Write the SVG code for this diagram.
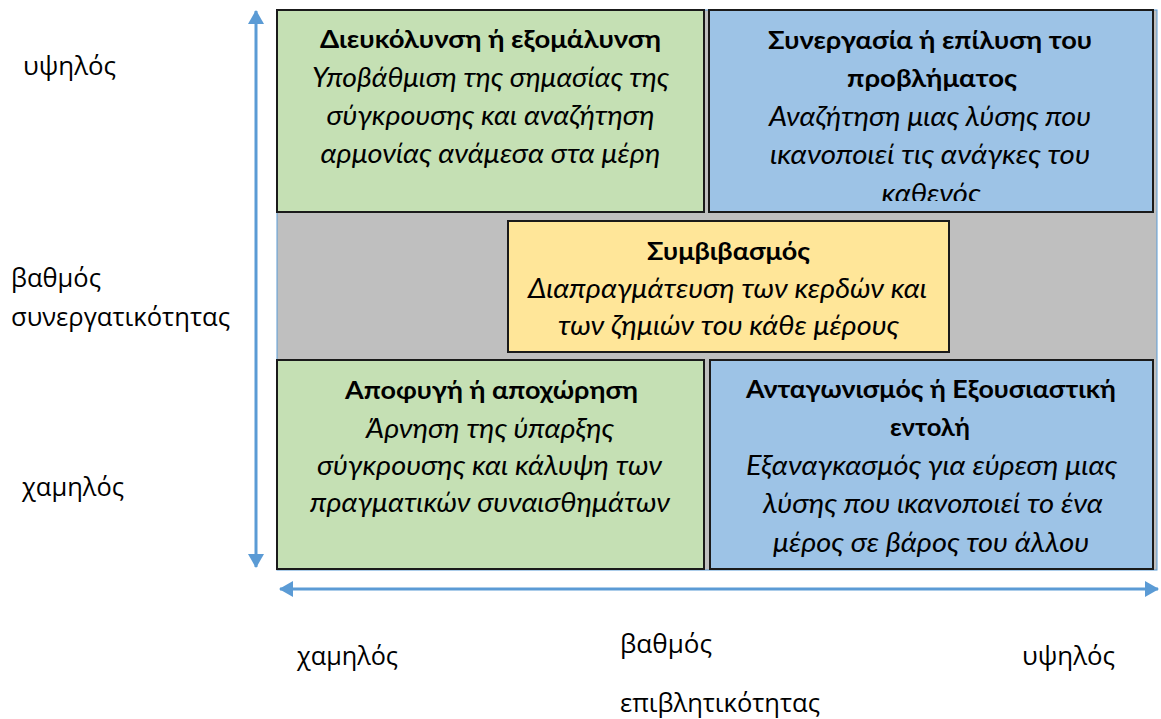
<svg xmlns="http://www.w3.org/2000/svg" width="1161" height="719" viewBox="0 0 1161 719">
<style>
.box{stroke:#1a1a1a;stroke-width:2}
.green{fill:#C5E0B4}
.blue{fill:#9DC3E6}
.yellow{fill:#FFE699}
.t{font-family:Lato,"Liberation Sans",sans-serif;font-size:25.5px;fill:#000;text-anchor:middle}
.b{font-weight:bold}
.i{font-style:italic;font-size:27px}
.ax{font-family:"Open Sans","Noto Sans","DejaVu Sans",sans-serif;font-size:25px;fill:#000}
.arrow{stroke:#5B9BD5;stroke-width:3;fill:none}
</style>
<defs>
<marker id="ah" viewBox="0 0 14 16" refX="13" refY="8" markerWidth="14" markerHeight="16" markerUnits="userSpaceOnUse" orient="auto-start-reverse">
<path d="M0,0 L14,8 L0,16 z" fill="#5B9BD5"/>
</marker>
<clipPath id="clipTR"><rect x="709" y="10" width="444" height="191"/></clipPath>
</defs>
<rect x="0" y="0" width="1161" height="719" fill="#fff"/>
<g id="background">
<rect x="277" y="10" width="880" height="560" fill="#BFBFBF" stroke="#5B9BD5" stroke-width="1"/>
</g>
<g id="connectors">
<path class="arrow" d="M256,11 L256,567" marker-start="url(#ah)" marker-end="url(#ah)"/>
<path class="arrow" d="M280,589 L1158,589" marker-start="url(#ah)" marker-end="url(#ah)"/>
</g>
<g id="node-avoidance-top">
<rect class="box green" x="277" y="10" width="427" height="202"/>
<text class="t b" x="490.5" y="48" textLength="341" lengthAdjust="spacingAndGlyphs">Διευκόλυνση ή εξομάλυνση</text>
<text class="t i" x="490.5" y="87" textLength="357" lengthAdjust="spacingAndGlyphs">Υποβάθμιση της σημασίας της</text>
<text class="t i" x="490.5" y="125" textLength="328" lengthAdjust="spacingAndGlyphs">σύγκρουσης και αναζήτηση</text>
<text class="t i" x="490.5" y="163" textLength="340" lengthAdjust="spacingAndGlyphs">αρμονίας ανάμεσα στα μέρη</text>
</g>
<g id="node-collaboration">
<rect class="box blue" x="709" y="10" width="444" height="202"/>
<g clip-path="url(#clipTR)">
<text class="t b" x="930" y="49" textLength="324" lengthAdjust="spacingAndGlyphs">Συνεργασία ή επίλυση του</text>
<text class="t b" x="932" y="87" textLength="170" lengthAdjust="spacingAndGlyphs">προβλήματος</text>
<text class="t i" x="930" y="126" textLength="322" lengthAdjust="spacingAndGlyphs">Αναζήτηση μιας λύσης που</text>
<text class="t i" x="930" y="164" textLength="320" lengthAdjust="spacingAndGlyphs">ικανοποιεί τις ανάγκες του</text>
<text class="t i" x="931" y="203" textLength="99" lengthAdjust="spacingAndGlyphs">καθενός</text>
</g>
</g>
<g id="node-compromise">
<rect class="box yellow" x="508" y="221" width="441" height="131"/>
<text class="t b" x="728.5" y="260" textLength="163" lengthAdjust="spacingAndGlyphs">Συμβιβασμός</text>
<text class="t i" x="727.5" y="298" textLength="399" lengthAdjust="spacingAndGlyphs">Διαπραγμάτευση των κερδών και</text>
<text class="t i" x="728.5" y="335" textLength="341" lengthAdjust="spacingAndGlyphs">των ζημιών του κάθε μέρους</text>
</g>
<g id="node-avoidance">
<rect class="box green" x="277" y="360" width="427" height="209"/>
<text class="t b" x="491.5" y="399" textLength="293" lengthAdjust="spacingAndGlyphs">Αποφυγή ή αποχώρηση</text>
<text class="t i" x="490" y="438" textLength="248" lengthAdjust="spacingAndGlyphs">Άρνηση της ύπαρξης</text>
<text class="t i" x="489.5" y="475" textLength="345" lengthAdjust="spacingAndGlyphs">σύγκρουσης και κάλυψη των</text>
<text class="t i" x="490" y="512" textLength="360" lengthAdjust="spacingAndGlyphs">πραγματικών συναισθημάτων</text>
</g>
<g id="node-competition">
<rect class="box blue" x="710" y="360" width="443" height="209"/>
<text class="t b" x="931" y="398" textLength="370" lengthAdjust="spacingAndGlyphs">Ανταγωνισμός ή Εξουσιαστική</text>
<text class="t b" x="930" y="436" textLength="80" lengthAdjust="spacingAndGlyphs">εντολή</text>
<text class="t i" x="931.5" y="475" textLength="371" lengthAdjust="spacingAndGlyphs">Εξαναγκασμός για εύρεση μιας</text>
<text class="t i" x="933" y="513" textLength="340" lengthAdjust="spacingAndGlyphs">λύσης που ικανοποιεί το ένα</text>
<text class="t i" x="931" y="552" textLength="316" lengthAdjust="spacingAndGlyphs">μέρος σε βάρος του άλλου</text>
</g>
<g id="axis-labels">
<text class="ax" x="23" y="75" textLength="93" lengthAdjust="spacingAndGlyphs">υψηλός</text>
<text class="ax" x="11" y="287" textLength="90" lengthAdjust="spacingAndGlyphs">βαθμός</text>
<text class="ax" x="11" y="326" textLength="219" lengthAdjust="spacingAndGlyphs">συνεργατικότητας</text>
<text class="ax" x="22" y="496" textLength="102" lengthAdjust="spacingAndGlyphs">χαμηλός</text>
<text class="ax" x="297" y="665" textLength="101" lengthAdjust="spacingAndGlyphs">χαμηλός</text>
<text class="ax" x="620" y="653" textLength="92" lengthAdjust="spacingAndGlyphs">βαθμός</text>
<text class="ax" x="620" y="712" textLength="200" lengthAdjust="spacingAndGlyphs">επιβλητικότητας</text>
<text class="ax" x="1022" y="665" textLength="93" lengthAdjust="spacingAndGlyphs">υψηλός</text>
</g>
</svg>
